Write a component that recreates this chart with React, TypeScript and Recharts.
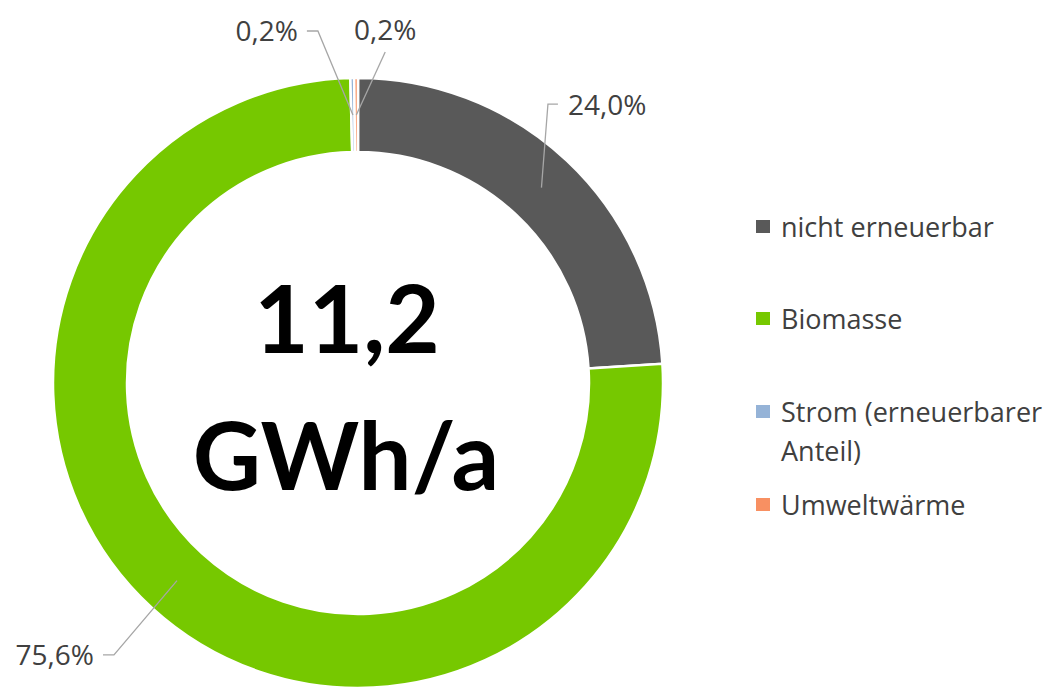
import React from "react";
import { PieChart, Pie, Cell, Legend, Label } from "recharts";

const categories = ["nicht erneuerbar", "Biomasse", "Strom (erneuerbarer Anteil)", "Umweltwärme"];
const shares = [24.0, 75.6, 0.2, 0.2];
const colors = ["#595959", "#76c800", "#95b3d7", "#f89062"];
const totalValue = "11,2";
const totalUnit = "GWh/a";

// label placement (style): elbow polar angle / radius and direction of the text
const labelPlacement = [
  { angle: 55.75, r: 337.5, dir: 1 },
  { angle: 228.1, r: 365.4, dir: -1 },
  { angle: 96.5, r: 354.3, dir: -1 },
  { angle: 85.3, r: 332.1, dir: 0 },
];

const data = categories.map((name, i) => ({ name, value: shares[i] }));

const RAD = Math.PI / 180;
const polar = (cx: number, cy: number, r: number, a: number) => ({
  x: cx + r * Math.cos(-a * RAD),
  y: cy + r * Math.sin(-a * RAD),
});

const fmt = (v: number) => v.toFixed(1).replace(".", ",") + "%";

const LABEL_FONT = "'Open Sans', sans-serif";
const TEXT_COLOR = "#404040";
const LINE_COLOR = "#a6a6a6";

const renderLabel = (props: any) => {
  const { cx, cy, midAngle, innerRadius, outerRadius, index, value } = props;
  const p = labelPlacement[index];
  const start = polar(cx, cy, (innerRadius + outerRadius) / 2, midAngle);
  const elbow = polar(cx, cy, p.r, p.angle);
  let d = `M${start.x},${start.y}L${elbow.x},${elbow.y}`;
  let tx = elbow.x;
  let ty = elbow.y;
  let anchor: "start" | "end" | "middle" = "middle";
  if (p.dir === 1) {
    d += `L${elbow.x + 10},${elbow.y}`;
    tx = elbow.x + 20;
    anchor = "start";
  } else if (p.dir === -1) {
    d += `L${elbow.x - 11},${elbow.y}`;
    tx = elbow.x - 20;
    ty = elbow.y - 1;
    anchor = "end";
  } else {
    ty = elbow.y - 23.5;
  }
  return (
    <g key={`lbl-${index}`}>
      <path d={d} stroke={LINE_COLOR} strokeWidth={1.3} fill="none" />
      <text
        x={tx}
        y={ty}
        textAnchor={anchor}
        dominantBaseline="central"
        fontFamily={LABEL_FONT}
        fontSize={28}
        fill={TEXT_COLOR}
      >
        {fmt(value)}
      </text>
    </g>
  );
};

const renderCenter = (props: any) => {
  const vb = props.viewBox || {};
  const cx = vb.cx ?? 358;
  const cy = vb.cy ?? 383;
  return (
    <g>
      <text
        x={cx - 11}
        y={cy - 30}
        textAnchor="middle"
        fontFamily="Lato, 'Open Sans', sans-serif"
        fontWeight={700}
        fontSize={94}
        fill="#000000"
      >
        {totalValue}
      </text>
      <text
        x={cx - 12}
        y={cy + 107}
        textAnchor="middle"
        fontFamily="Lato, 'Open Sans', sans-serif"
        fontWeight={700}
        fontSize={94}
        fill="#000000"
      >
        {totalUnit}
      </text>
    </g>
  );
};

const renderLegend = (props: any) => {
  const payload = [...(props.payload || [])].sort(
    (a: any, b: any) => categories.indexOf(a.value) - categories.indexOf(b.value)
  );
  return (
    <div style={{ fontFamily: LABEL_FONT }}>
      {payload.map((entry: any, i: number) => (
        <div
          key={`leg-${i}`}
          style={{ height: 92.7, display: "flex", alignItems: "flex-start" }}
        >
          <div
            style={{
              width: 14,
              height: 13,
              marginTop: 13,
              background: entry.color,
              flex: "0 0 auto",
            }}
          />
          <div
            style={{
              marginLeft: 11,
              width: 262,
              fontSize: 27,
              lineHeight: "39px",
              color: TEXT_COLOR,
            }}
          >
            {entry.value}
          </div>
        </div>
      ))}
    </div>
  );
};

export default function App() {
  return (
    <div style={{ position: "absolute", left: 0, top: 0, width: 1050, height: 688, background: "#ffffff" }}>
      <PieChart width={1050} height={688} margin={{ top: 0, right: 0, bottom: 0, left: 0 }}>
        <Pie
          data={data}
          dataKey="value"
          nameKey="name"
          cx={358}
          cy={383}
          innerRadius={231}
          outerRadius={305}
          startAngle={90}
          endAngle={-270}
          stroke="#ffffff"
          strokeWidth={2.5}
          label={renderLabel}
          labelLine={false}
          isAnimationActive={false}
        >
          {data.map((d, i) => (
            <Cell key={`c-${i}`} fill={colors[i]} />
          ))}
          <Label position="center" content={renderCenter} />
        </Pie>
        <Legend
          layout="vertical"
          align="right"
          verticalAlign="middle"
          itemSorter={null as any}
          content={renderLegend}
          wrapperStyle={{ position: "absolute", left: 756, top: 206.5, width: 290 }}
        />
      </PieChart>
    </div>
  );
}
